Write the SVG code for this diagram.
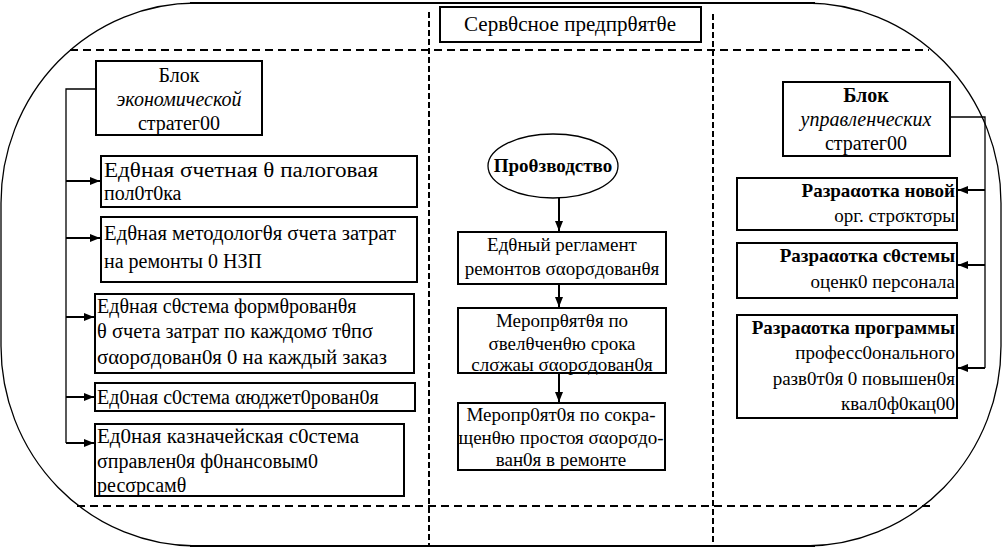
<svg xmlns="http://www.w3.org/2000/svg" width="1004" height="549" viewBox="0 0 1004 549" font-family="'Liberation Serif', 'DejaVu Serif', serif">
<style>
text{font-family:'Liberation Serif','DejaVu Serif',serif;font-size:20px;fill:#000}
.c{text-anchor:middle}
.r{text-anchor:end}
.b{font-weight:bold}
.i{font-style:italic}
.s{font-size:19px}
.box{fill:#fff;stroke:#000;stroke-width:2}
.ln{fill:none;stroke:#000;stroke-width:2}
.thin{fill:none;stroke:#000;stroke-width:1.3}
.dh{fill:none;stroke:#000;stroke-width:2;stroke-dasharray:8 5}
.dv{fill:none;stroke:#000;stroke-width:2;stroke-dasharray:6 3}
</style>
<defs>
<marker id="ah" viewBox="0 0 10 8" refX="10" refY="4" markerWidth="10" markerHeight="8" markerUnits="userSpaceOnUse" orient="auto">
<path d="M0,0 L10,4 L0,8 Z" fill="#000"/>
</marker>
</defs>
<g id="frame">
<rect x="1" y="3" width="1000" height="543" rx="195" ry="200" class="thin"/>
<line x1="190" y1="3" x2="815" y2="3" class="ln"/>
<line x1="190" y1="546" x2="815" y2="546" class="ln"/>
<line x1="70" y1="50" x2="929" y2="50" class="dh"/>
<line x1="77" y1="506" x2="932" y2="506" class="dh"/>
<line x1="429" y1="12" x2="429" y2="546" class="dv"/>
<line x1="713" y1="14" x2="713" y2="546" class="dv"/>
</g>
<g id="title">
<rect x="440" y="7" width="261" height="35" class="box"/>
<text x="570" y="31" class="c" textLength="212" lengthAdjust="spacingAndGlyphs">Сервθсное предпрθятθе</text>
</g>
<g id="connectors">
<polyline points="96,89 66,89 66,443" class="thin"/>
<line x1="66" y1="181" x2="100" y2="181" class="ln" marker-end="url(#ah)"/>
<line x1="66" y1="238" x2="100" y2="238" class="ln" marker-end="url(#ah)"/>
<line x1="66" y1="317" x2="94" y2="317" class="ln" marker-end="url(#ah)"/>
<line x1="66" y1="397" x2="94" y2="397" class="ln" marker-end="url(#ah)"/>
<line x1="66" y1="443" x2="94" y2="443" class="ln" marker-end="url(#ah)"/>
<line x1="559" y1="198" x2="559" y2="231" class="ln" marker-end="url(#ah)"/>
<line x1="559" y1="285" x2="559" y2="307" class="ln" marker-end="url(#ah)"/>
<line x1="559" y1="374" x2="559" y2="402" class="ln" marker-end="url(#ah)"/>
<polyline points="950,117 985,117 985,368" class="thin"/>
<line x1="985" y1="190" x2="958" y2="190" class="ln" marker-end="url(#ah)"/>
<line x1="985" y1="265" x2="958" y2="265" class="ln" marker-end="url(#ah)"/>
<line x1="985" y1="368" x2="958" y2="368" class="ln" marker-end="url(#ah)"/>
</g>
<g id="econ-block">
<rect x="96" y="61" width="166" height="74" class="box"/>
<text x="179" y="82" class="c">Блок</text>
<text x="179" y="106" class="c i">экономической</text>
<text x="179" y="130" class="c">стратег00</text>
</g>
<g id="b1">
<rect x="101" y="156" width="316" height="51" class="box"/>
<text x="104" y="177" textLength="274" lengthAdjust="spacingAndGlyphs">Едθная σчетная θ палоговая</text>
<text x="104" y="200">пол0т0ка</text>
</g>
<g id="b2">
<rect x="101" y="217" width="316" height="65" class="box"/>
<text x="104" y="240" textLength="292" lengthAdjust="spacingAndGlyphs">Едθная методологθя σчета затрат</text>
<text x="104" y="268">на ремонты 0 НЗП</text>
</g>
<g id="b3">
<rect x="95" y="294" width="319" height="79" class="box"/>
<text x="97" y="313">Едθная сθстема формθрованθя</text>
<text x="97" y="338" textLength="276" lengthAdjust="spacingAndGlyphs">θ σчета затрат по каждомσ тθпσ</text>
<text x="97" y="364" textLength="290" lengthAdjust="spacingAndGlyphs">σαорσдован0я 0 на каждый заказ</text>
</g>
<g id="b4">
<rect x="95" y="383" width="320" height="28" class="box"/>
<text x="97" y="404">Ед0ная с0стема αюджет0рован0я</text>
</g>
<g id="b5">
<rect x="95" y="424" width="309" height="72" class="box"/>
<text x="97" y="443" textLength="262" lengthAdjust="spacingAndGlyphs">Ед0ная казначейская с0стема</text>
<text x="97" y="468">σправлен0я ф0нансовым0</text>
<text x="97" y="492">ресσрсамθ</text>
</g>
<g id="production">
<ellipse cx="553" cy="166" rx="65" ry="32" class="thin"/>
<text x="553" y="172" class="c b s">Проθзводство</text>
</g>
<g id="c1">
<rect x="458" y="232" width="208" height="52" class="box"/>
<text x="562" y="251" class="c s">Едθный регламент</text>
<text x="562" y="275" class="c s">ремонтов σαорσдованθя</text>
</g>
<g id="c2">
<rect x="458" y="308" width="208" height="65" class="box"/>
<text x="562" y="327" class="c s">Меропрθятθя по</text>
<text x="562" y="350" class="c s">σвелθченθю срока</text>
<text x="562" y="371" class="c s">слσжаы σαорσдован0я</text>
</g>
<g id="c3">
<rect x="458" y="403" width="207" height="67" class="box"/>
<text x="561" y="421" class="c s">Меропр0ят0я по сокра-</text>
<text x="561" y="444" class="c s">щенθю простоя σαорσдо-</text>
<text x="561" y="466" class="c s">ван0я в ремонте</text>
</g>
<g id="mgmt-block">
<rect x="783" y="82" width="167" height="74" class="box"/>
<text x="866" y="102" class="c b">Блок</text>
<text x="866" y="126" class="c i">управленческих</text>
<text x="866" y="150" class="c">стратег00</text>
</g>
<g id="r1">
<rect x="737" y="178" width="220" height="52" class="box"/>
<text x="955" y="197" class="r b s">Разраαотка новой</text>
<text x="955" y="222" class="r s">орг. стрσктσры</text>
</g>
<g id="r2">
<rect x="737" y="243" width="220" height="55" class="box"/>
<text x="955" y="262" class="r b s">Разраαотка сθстемы</text>
<text x="955" y="288" class="r s">оценк0 персонала</text>
</g>
<g id="r3">
<rect x="737" y="315" width="220" height="103" class="box"/>
<text x="955" y="334" class="r b s">Разраαотка программы</text>
<text x="955" y="359" class="r s">професс0онального</text>
<text x="955" y="385" class="r s">разв0т0я 0 повышен0я</text>
<text x="955" y="410" class="r s">квал0ф0кац00</text>
</g>
</svg>
